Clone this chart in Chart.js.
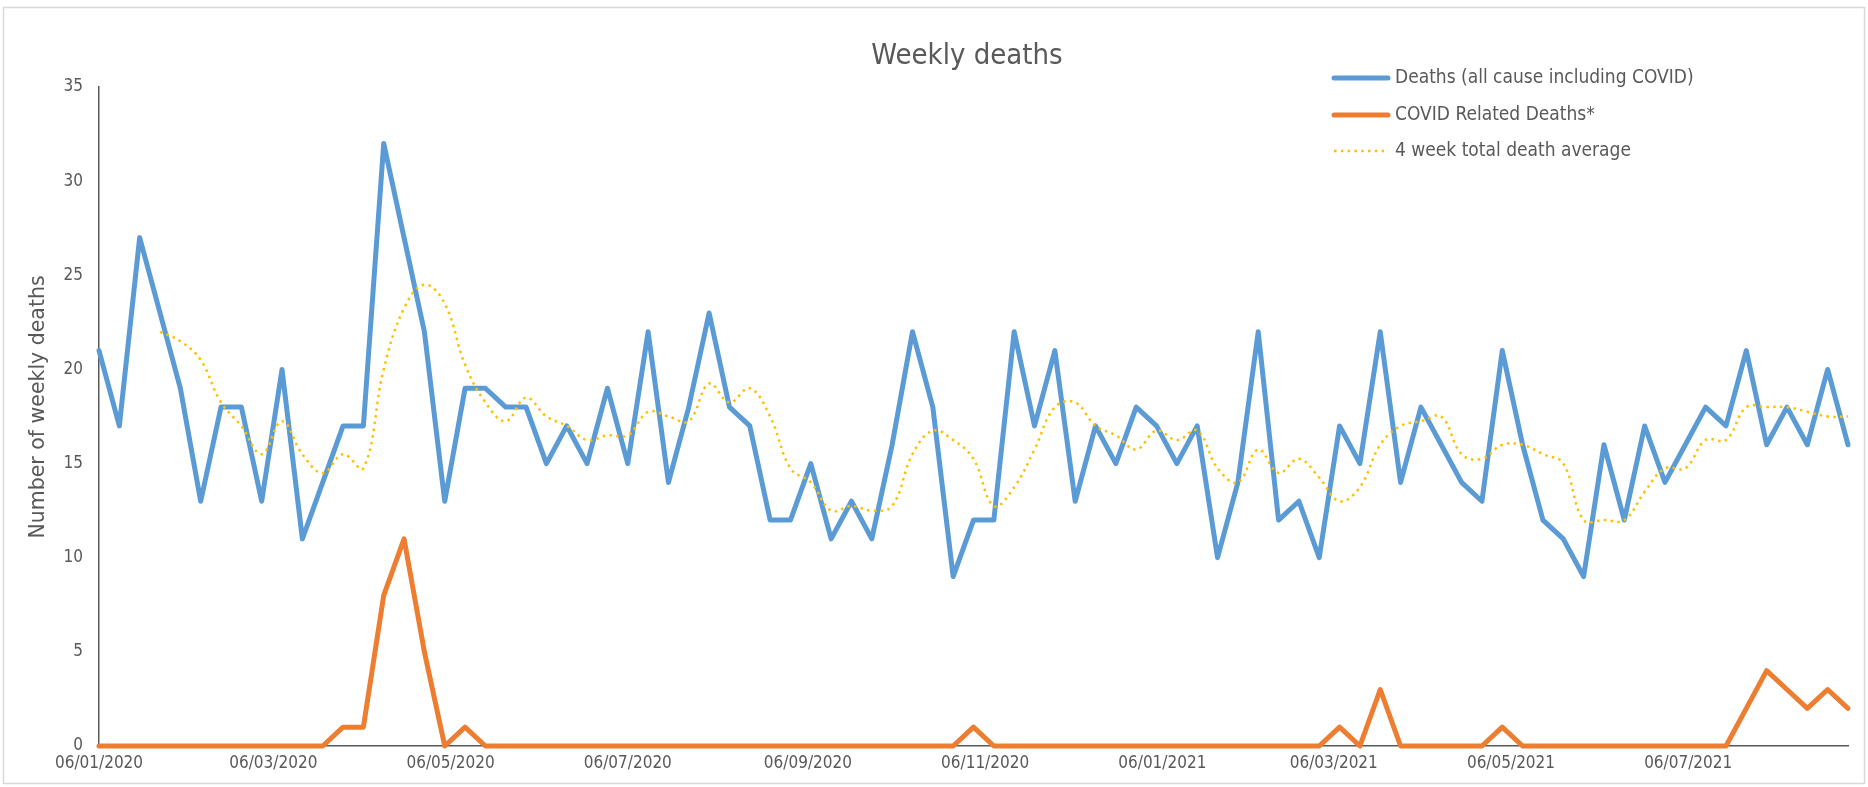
<!DOCTYPE html>
<html>
<head>
<meta charset="utf-8">
<title>Weekly deaths</title>
<script src="https://cdn.jsdelivr.net/npm/chart.js@4.4.1/dist/chart.umd.min.js"></script>
<style>
  html, body { margin: 0; padding: 0; background: #fff; }
  #wrap { position: relative; width: 1868px; height: 787px; }
</style>
</head>
<body>
<div id="wrap"><canvas id="deathsChart"></canvas></div>
<script>
/***********************
 * DATA
 ***********************/
const chartTitle = "Weekly deaths";
const yTitle = "Number of weekly deaths";

const seriesLabels = [
  "Deaths (all cause including COVID)",
  "COVID Related Deaths*",
  "4 week total death average"
];

const weekDates = [
  "06/01/2020","13/01/2020","20/01/2020","27/01/2020",
  "03/02/2020","10/02/2020","17/02/2020","24/02/2020",
  "02/03/2020","09/03/2020","16/03/2020","23/03/2020","30/03/2020",
  "06/04/2020","13/04/2020","20/04/2020","27/04/2020",
  "04/05/2020","11/05/2020","18/05/2020","25/05/2020",
  "01/06/2020","08/06/2020","15/06/2020","22/06/2020","29/06/2020",
  "06/07/2020","13/07/2020","20/07/2020","27/07/2020",
  "03/08/2020","10/08/2020","17/08/2020","24/08/2020","31/08/2020",
  "07/09/2020","14/09/2020","21/09/2020","28/09/2020",
  "05/10/2020","12/10/2020","19/10/2020","26/10/2020",
  "02/11/2020","09/11/2020","16/11/2020","23/11/2020","30/11/2020",
  "07/12/2020","14/12/2020","21/12/2020","28/12/2020",
  "04/01/2021","11/01/2021","18/01/2021","25/01/2021",
  "01/02/2021","08/02/2021","15/02/2021","22/02/2021",
  "01/03/2021","08/03/2021","15/03/2021","22/03/2021","29/03/2021",
  "05/04/2021","12/04/2021","19/04/2021","26/04/2021",
  "03/05/2021","10/05/2021","17/05/2021","24/05/2021","31/05/2021",
  "07/06/2021","14/06/2021","21/06/2021","28/06/2021",
  "05/07/2021","12/07/2021","19/07/2021","26/07/2021",
  "02/08/2021","09/08/2021","16/08/2021","23/08/2021","30/08/2021"
];

const allDeaths = [
  21, 17, 27, 23, 19, 13, 18, 18, 13, 20,
  11, 14, 17, 17, 32, 27, 22, 13, 19, 19,
  18, 18, 15, 17, 15, 19, 15, 22, 14, 18,
  23, 18, 17, 12, 12, 15, 11, 13, 11, 16,
  22, 18, 9, 12, 12, 22, 17, 21, 13, 17,
  15, 18, 17, 15, 17, 10, 14, 22, 12, 13,
  10, 17, 15, 22, 14, 18, 16, 14, 13, 21,
  16, 12, 11, 9, 16, 12, 17, 14, 16, 18,
  17, 21, 16, 18, 16, 20, 16
];

const covidDeaths = [
  0, 0, 0, 0, 0, 0, 0, 0, 0, 0,
  0, 0, 1, 1, 8, 11, 5, 0, 1, 0,
  0, 0, 0, 0, 0, 0, 0, 0, 0, 0,
  0, 0, 0, 0, 0, 0, 0, 0, 0, 0,
  0, 0, 0, 1, 0, 0, 0, 0, 0, 0,
  0, 0, 0, 0, 0, 0, 0, 0, 0, 0,
  0, 1, 0, 3, 0, 0, 0, 0, 0, 1,
  0, 0, 0, 0, 0, 0, 0, 0, 0, 0,
  0, 2, 4, 3, 2, 3, 2
];

const avgDeaths = [
  null, null, null, 22, 21.5, 20.5, 18.25, 17, 15.5, 17.25,
  15.5, 14.5, 15.5, 14.75, 20, 23.25, 24.5, 23.5, 20.25, 18.25,
  17.25, 18.5, 17.5, 17, 16.25, 16.5, 16.5, 17.75, 17.5, 17.25,
  19.25, 18.25, 19, 17.5, 14.75, 14, 12.5, 12.75, 12.5, 12.75,
  15.5, 16.75, 16.25, 15.25, 12.75, 13.75, 15.75, 18, 18.25, 17,
  16.5, 15.75, 16.75, 16.25, 16.75, 14.75, 14, 15.75, 14.5, 15.25,
  14.25, 13, 13.75, 16, 17, 17.25, 17.5, 15.5, 15.25, 16,
  16, 15.5, 15, 12, 12, 12, 13.5, 14.75, 14.75, 16.25,
  16.25, 18, 18, 18, 17.75, 17.5, 17.5
];

const tickDates = [
  "06/01/2020", "06/03/2020", "06/05/2020", "06/07/2020", "06/09/2020",
  "06/11/2020", "06/01/2021", "06/03/2021", "06/05/2021", "06/07/2021"
];

const yMin = 0;
const yMax = 35;
const yStep = 5;

/***********************
 * HELPERS
 ***********************/
const fontFamily = "'DejaVu Sans Condensed', 'DejaVu Sans', sans-serif";
const textColor = "#595959";

function toDay(s) {
  const [d, m, y] = s.split("/").map(Number);
  return Date.UTC(y, m - 1, d) / 86400000;
}

const day0 = toDay(weekDates[0]);
const lastDay = toDay(weekDates[weekDates.length - 1]) - day0;
const tickLabelByDay = {};
tickDates.forEach(t => { tickLabelByDay[toDay(t) - day0] = t; });

function points(values) {
  return weekDates.map((d, i) => ({ x: toDay(d) - day0, y: values[i] }));
}

/***********************
 * FRAME, TITLES, LEGEND
 ***********************/
const legendRowsY = [78, 115, 151];

const decorations = {
  id: "decorations",
  beforeDraw(chart) {
    const ctx = chart.ctx;
    ctx.save();
    ctx.fillStyle = "#ffffff";
    ctx.fillRect(0, 0, chart.width, chart.height);
    ctx.strokeStyle = "#d9d9d9";
    ctx.lineWidth = 1.5;
    ctx.strokeRect(3.5, 7.5, chart.width - 7, chart.height - 11);
    ctx.restore();
  },
  afterDraw(chart) {
    const ctx = chart.ctx;
    ctx.save();
    ctx.fillStyle = textColor;
    ctx.textBaseline = "middle";

    // chart title
    ctx.font = "29px " + fontFamily;
    ctx.textAlign = "center";
    ctx.fillText(chartTitle, 967, 56);

    // y axis title
    ctx.save();
    ctx.translate(39, 407);
    ctx.rotate(-Math.PI / 2);
    ctx.font = "20.5px 'DejaVu Sans', sans-serif";
    ctx.fillText(yTitle, 0, 0);
    ctx.restore();

    // legend
    ctx.font = "19px " + fontFamily;
    ctx.textAlign = "left";
    chart.data.datasets.forEach((ds, i) => {
      const y = legendRowsY[i];
      ctx.beginPath();
      ctx.strokeStyle = ds.borderColor;
      ctx.lineWidth = ds.borderWidth;
      ctx.setLineDash(ds.borderDash || []);
      ctx.lineCap = ds.borderDash ? "butt" : "round";
      ctx.moveTo(1334, y);
      ctx.lineTo(1388, y);
      ctx.stroke();
      ctx.setLineDash([]);
      ctx.fillStyle = textColor;
      ctx.fillText(ds.label, 1395, y);
    });
    ctx.restore();
  }
};

/***********************
 * CHART
 ***********************/
new Chart(document.getElementById("deathsChart"), {
  type: "line",
  data: {
    datasets: [
      {
        label: seriesLabels[0],
        data: points(allDeaths),
        borderColor: "#5B9BD5",
        borderWidth: 5,
        borderJoinStyle: "round",
        borderCapStyle: "round",
        tension: 0,
        order: 2
      },
      {
        label: seriesLabels[1],
        data: points(covidDeaths),
        borderColor: "#ED7D31",
        borderWidth: 5,
        borderJoinStyle: "round",
        borderCapStyle: "round",
        tension: 0,
        order: 1
      },
      {
        label: seriesLabels[2],
        data: points(avgDeaths),
        borderColor: "#FFC000",
        borderWidth: 2.5,
        borderDash: [2.5, 4.3],
        tension: 0.4,
        order: 0
      }
    ]
  },
  options: {
    responsive: true,
    maintainAspectRatio: false,
    animation: false,
    clip: false,
    layout: {
      autoPadding: false,
      padding: { top: 87, right: 20, left: 0, bottom: 0 }
    },
    elements: { point: { radius: 0, hoverRadius: 0 } },
    plugins: {
      legend: { display: false },
      title: { display: false },
      tooltip: { enabled: false }
    },
    scales: {
      x: {
        type: "linear",
        min: 0,
        max: lastDay,
        grid: { display: false, drawTicks: false },
        border: { display: true, color: "#595959", width: 1.5 },
        afterBuildTicks: scale => {
          scale.ticks = Object.keys(tickLabelByDay).map(v => ({ value: Number(v) }));
        },
        afterFit: scale => { scale.height = 41; },
        ticks: {
          autoSkip: false,
          maxRotation: 0,
          padding: 7,
          color: textColor,
          font: { family: fontFamily, size: 17 },
          callback: v => tickLabelByDay[v] || ""
        }
      },
      y: {
        min: yMin,
        max: yMax,
        grid: { display: false, drawTicks: false },
        border: { display: true, color: "#595959", width: 1.5 },
        afterFit: scale => { scale.width = 99; },
        ticks: {
          stepSize: yStep,
          padding: 16,
          color: textColor,
          font: { family: fontFamily, size: 17 }
        }
      }
    }
  },
  plugins: [decorations]
});
</script>
</body>
</html>
